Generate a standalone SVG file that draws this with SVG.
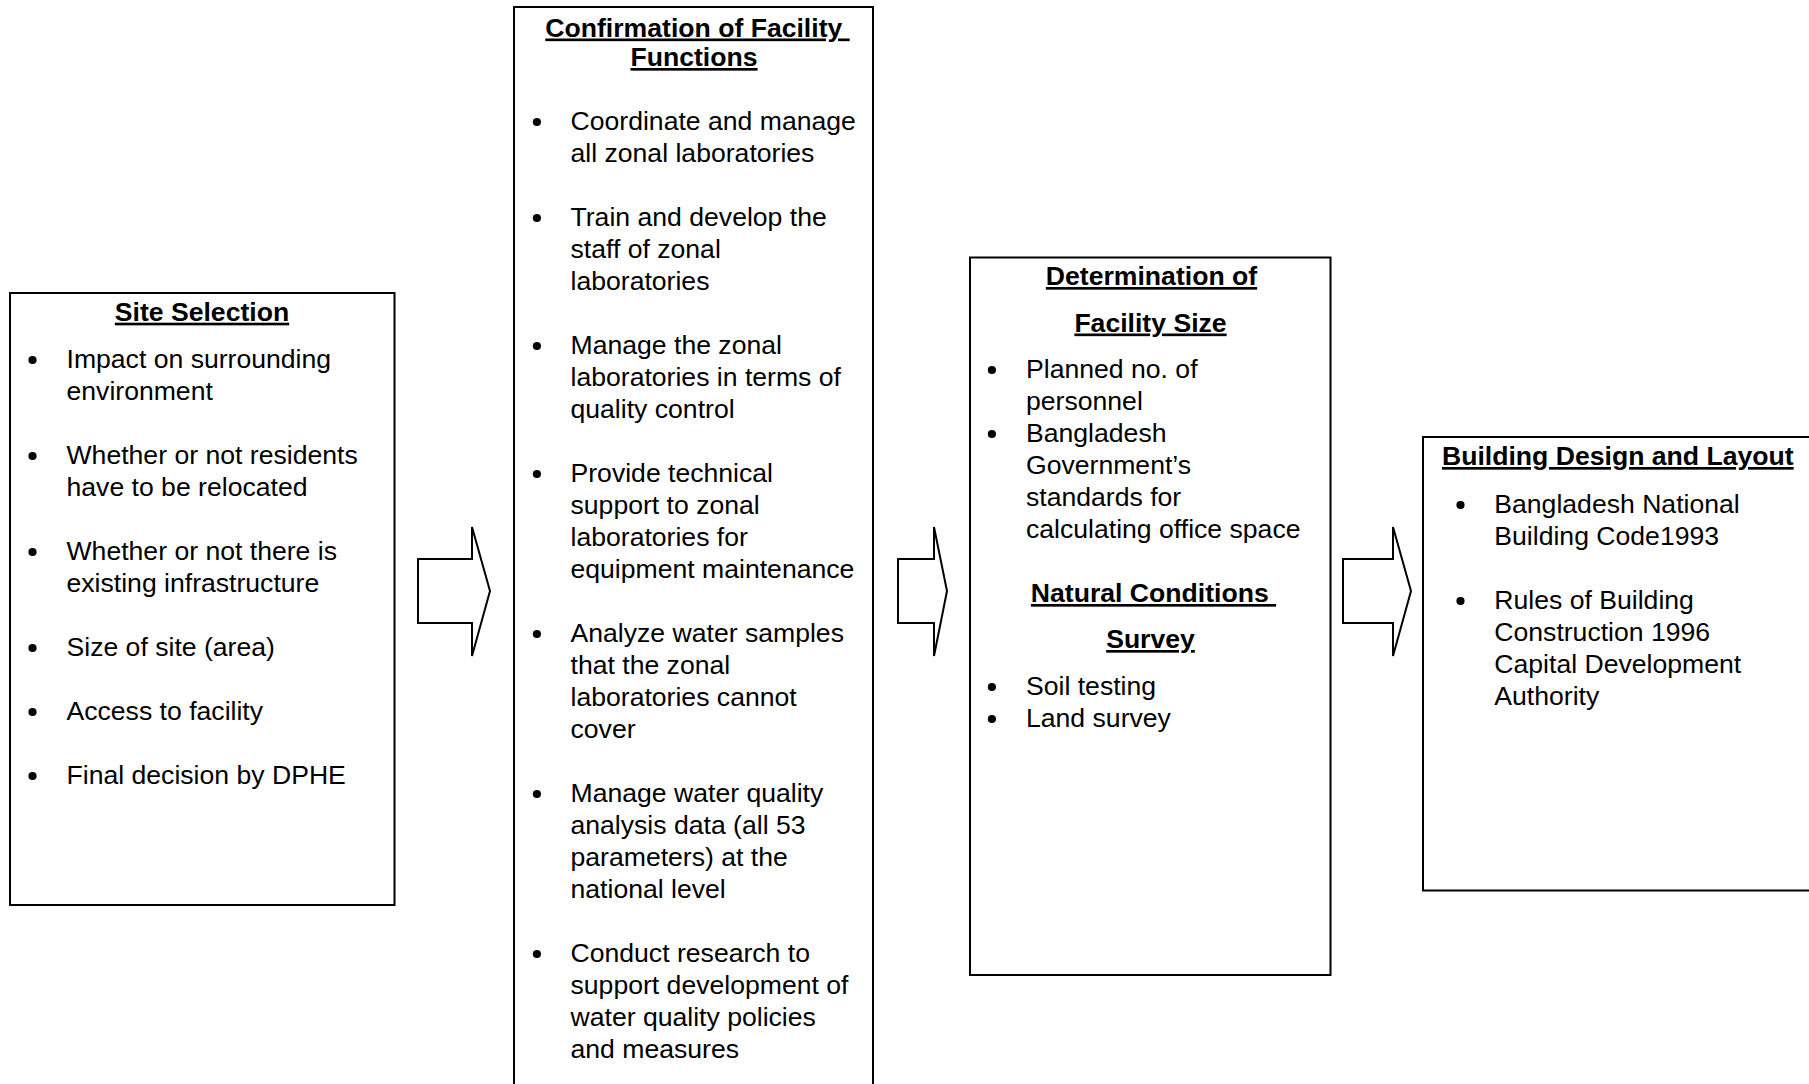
<svg xmlns="http://www.w3.org/2000/svg" width="1809" height="1084" viewBox="0 0 1809 1084">
  <style>
    .box { fill: #ffffff; stroke: #000000; stroke-width: 2; }
    .arrow { fill: #ffffff; stroke: #000000; stroke-width: 2; stroke-linejoin: miter; }
    .txt { font-family: "Liberation Sans", Arial, sans-serif; font-size: 26.6px; fill: #000000; }
    .title { font-family: "Liberation Sans", Arial, sans-serif; font-size: 26.6px; font-weight: bold; fill: #000000; text-decoration: underline; }
    .mid { text-anchor: middle; }
    .dot { fill: #000000; }
  </style>
  <rect x="0" y="0" width="1809" height="1084" fill="#ffffff"/>

  <!-- Step 1: site selection -->
  <g id="site-selection">
    <rect class="box" x="10" y="293" width="384.5" height="612"/>
    <text class="title mid" x="202" y="320.7">Site Selection</text>
    <g class="dot">
      <circle cx="32.5" cy="360" r="4.1"/>
      <circle cx="32.5" cy="456" r="4.1"/>
      <circle cx="32.5" cy="552" r="4.1"/>
      <circle cx="32.5" cy="648" r="4.1"/>
      <circle cx="32.5" cy="712" r="4.1"/>
      <circle cx="32.5" cy="776" r="4.1"/>
    </g>
    <text class="txt">
      <tspan x="66.5" y="368">Impact on surrounding</tspan>
      <tspan x="66.5" y="400">environment</tspan>
      <tspan x="66.5" y="464">Whether or not residents</tspan>
      <tspan x="66.5" y="496">have to be relocated</tspan>
      <tspan x="66.5" y="560">Whether or not there is</tspan>
      <tspan x="66.5" y="592">existing infrastructure</tspan>
      <tspan x="66.5" y="656">Size of site (area)</tspan>
      <tspan x="66.5" y="720">Access to facility</tspan>
      <tspan x="66.5" y="784">Final decision by DPHE</tspan>
    </text>
  </g>

  <!-- Step 2: facility functions -->
  <g id="facility-functions">
    <rect class="box" x="514" y="7" width="359" height="1100"/>
    <text class="title mid" x="697.5" y="36.5">Confirmation of Facility&#160;</text>
    <text class="title mid" x="694" y="66">Functions</text>
    <g class="dot">
      <circle cx="536.9" cy="122" r="4.1"/>
      <circle cx="536.9" cy="218" r="4.1"/>
      <circle cx="536.9" cy="346" r="4.1"/>
      <circle cx="536.9" cy="474" r="4.1"/>
      <circle cx="536.9" cy="634" r="4.1"/>
      <circle cx="536.9" cy="794" r="4.1"/>
      <circle cx="536.9" cy="954" r="4.1"/>
    </g>
    <text class="txt">
      <tspan x="570.5" y="130">Coordinate and manage</tspan>
      <tspan x="570.5" y="162">all zonal laboratories</tspan>
      <tspan x="570.5" y="226">Train and develop the</tspan>
      <tspan x="570.5" y="258">staff of zonal</tspan>
      <tspan x="570.5" y="290">laboratories</tspan>
      <tspan x="570.5" y="354">Manage the zonal</tspan>
      <tspan x="570.5" y="386">laboratories in terms of</tspan>
      <tspan x="570.5" y="418">quality control</tspan>
      <tspan x="570.5" y="482">Provide technical</tspan>
      <tspan x="570.5" y="514">support to zonal</tspan>
      <tspan x="570.5" y="546">laboratories for</tspan>
      <tspan x="570.5" y="578">equipment maintenance</tspan>
      <tspan x="570.5" y="642">Analyze water samples</tspan>
      <tspan x="570.5" y="674">that the zonal</tspan>
      <tspan x="570.5" y="706">laboratories cannot</tspan>
      <tspan x="570.5" y="738">cover</tspan>
      <tspan x="570.5" y="802">Manage water quality</tspan>
      <tspan x="570.5" y="834">analysis data (all 53</tspan>
      <tspan x="570.5" y="866">parameters) at the</tspan>
      <tspan x="570.5" y="898">national level</tspan>
      <tspan x="570.5" y="962">Conduct research to</tspan>
      <tspan x="570.5" y="994">support development of</tspan>
      <tspan x="570.5" y="1026">water quality policies</tspan>
      <tspan x="570.5" y="1058">and measures</tspan>
    </text>
  </g>

  <!-- Step 3: facility size and natural conditions -->
  <g id="facility-size">
    <rect class="box" x="970" y="257.5" width="360.5" height="717.5"/>
    <text class="title mid" x="1151.5" y="285">Determination of</text>
    <text class="title mid" x="1150.5" y="331.5">Facility Size</text>
    <g class="dot">
      <circle cx="991.9" cy="370" r="4.1"/>
      <circle cx="991.9" cy="434" r="4.1"/>
      <circle cx="991.9" cy="687" r="4.1"/>
      <circle cx="991.9" cy="719" r="4.1"/>
    </g>
    <text class="txt">
      <tspan x="1026" y="378">Planned no. of</tspan>
      <tspan x="1026" y="410">personnel</tspan>
      <tspan x="1026" y="442">Bangladesh</tspan>
      <tspan x="1026" y="474">Government’s</tspan>
      <tspan x="1026" y="506">standards for</tspan>
      <tspan x="1026" y="538">calculating office space</tspan>
    </text>
    <text class="title mid" x="1153.5" y="602">Natural Conditions&#160;</text>
    <text class="title mid" x="1150.5" y="648">Survey</text>
    <text class="txt">
      <tspan x="1026" y="695">Soil testing</tspan>
      <tspan x="1026" y="727">Land survey</tspan>
    </text>
  </g>

  <!-- Step 4: building design -->
  <g id="building-design">
    <rect class="box" x="1423" y="437" width="400" height="453.5"/>
    <text class="title" x="1442" y="465">Building Design and Layout</text>
    <g class="dot">
      <circle cx="1460.5" cy="505" r="4.1"/>
      <circle cx="1460.5" cy="601" r="4.1"/>
    </g>
    <text class="txt">
      <tspan x="1494.3" y="512.5">Bangladesh National</tspan>
      <tspan x="1494.3" y="544.5">Building Code1993</tspan>
      <tspan x="1494.3" y="608.5">Rules of Building</tspan>
      <tspan x="1494.3" y="640.5">Construction 1996</tspan>
      <tspan x="1494.3" y="672.5">Capital Development</tspan>
      <tspan x="1494.3" y="704.5">Authority</tspan>
    </text>
  </g>

  <!-- Block arrows between steps -->
  <g id="connectors">
    <polygon class="arrow" points="418,559 472,559 472,527 490,591 472,656 472,623 418,623"/>
    <polygon class="arrow" points="898,559 934,559 934,527 947,591 934,656 934,623 898,623"/>
    <polygon class="arrow" points="1343,559 1393,559 1393,527 1411,591 1393,656 1393,623 1343,623"/>
  </g>
</svg>
